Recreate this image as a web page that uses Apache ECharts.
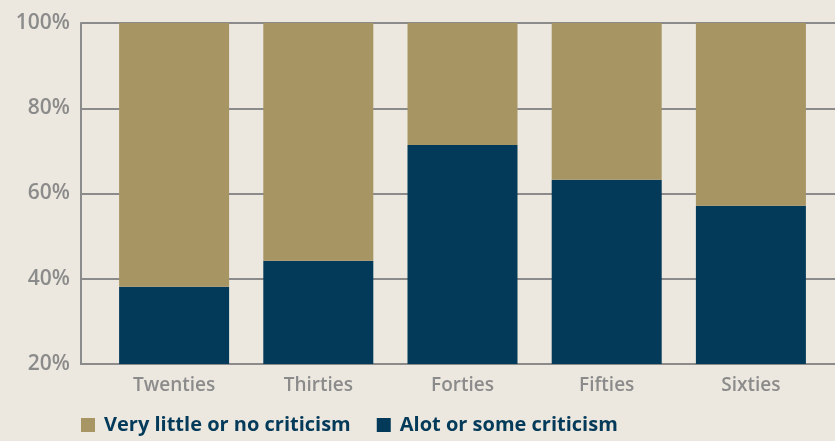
<!DOCTYPE html>
<html>
<head>
<meta charset="utf-8">
<script src="https://cdn.jsdelivr.net/npm/echarts@6/dist/echarts.min.js"></script>
<style>
  html, body { margin: 0; padding: 0; background: #ece8df; }
  #main { width: 835px; height: 441px; }
</style>
</head>
<body>
<div id="main"></div>
<script>
// data
var categories = ['Twenties', 'Thirties', 'Forties', 'Fifties', 'Sixties'];
var alotOrSome = [38.1, 44.2, 71.4, 63.2, 57.1];
var veryLittle = [61.9, 55.8, 28.6, 36.8, 42.9];
var yTicks = [20, 40, 60, 80, 100];

var grey = '#8b8b8b';
var gold = '#a89564';
var navy = '#033a59';
var font = 'Open Sans';

var myChart = echarts.init(document.getElementById('main'));

var option = {
    backgroundColor: '#ece8df',
    textStyle: { fontFamily: font },
    legend: {
        left: 81,
        top: 415,
        padding: 0,
        itemWidth: 14,
        itemHeight: 14,
        itemGap: 26,
        icon: 'rect',
        textStyle: { color: navy, fontSize: 20, fontWeight: 'bold', fontFamily: font,
            padding: [0, 0, 0, 4] },
        data: ['Very little or no criticism', 'Alot or some criticism']
    },
    grid: [
        // frame with y labels and grid lines
        { left: 81, right: 0, top: 23, bottom: 77 },
        // bars
        { left: 102, right: 12, top: 23, bottom: 77 }
    ],
    xAxis: [
        {
            gridIndex: 0, type: 'value', min: 0, max: 1,
            axisLine: { show: true, lineStyle: { color: grey, width: 2 } },
            axisTick: { show: false }, axisLabel: { show: false }, splitLine: { show: false }
        },
        {
            gridIndex: 1, type: 'category', data: categories,
            axisLine: { show: false }, axisTick: { show: false },
            axisLabel: { color: grey, fontSize: 19, fontWeight: 600, fontFamily: font, margin: 12 }
        }
    ],
    yAxis: [
        {
            gridIndex: 0, type: 'value', min: yTicks[0], max: yTicks[yTicks.length - 1], interval: 20,
            axisLine: { show: true, lineStyle: { color: grey, width: 2 } },
            axisTick: { show: false },
            splitLine: { show: true, lineStyle: { color: grey, width: 2 } },
            axisLabel: { color: grey, fontSize: 21, fontWeight: 600, fontFamily: font, margin: 11,
                formatter: '{value}%' }
        },
        {
            gridIndex: 1, type: 'value', min: 20, max: 100,
            axisLine: { show: false }, axisTick: { show: false },
            axisLabel: { show: false }, splitLine: { show: false }
        }
    ],
    series: [
        {
            name: 'Alot or some criticism', type: 'bar', stack: 'all',
            xAxisIndex: 1, yAxisIndex: 1, barWidth: 110,
            itemStyle: { color: navy }, data: alotOrSome
        },
        {
            name: 'Very little or no criticism', type: 'bar', stack: 'all',
            xAxisIndex: 1, yAxisIndex: 1, barWidth: 110,
            itemStyle: { color: gold }, data: veryLittle
        }
    ]
};

myChart.setOption(option);
</script>
</body>
</html>
